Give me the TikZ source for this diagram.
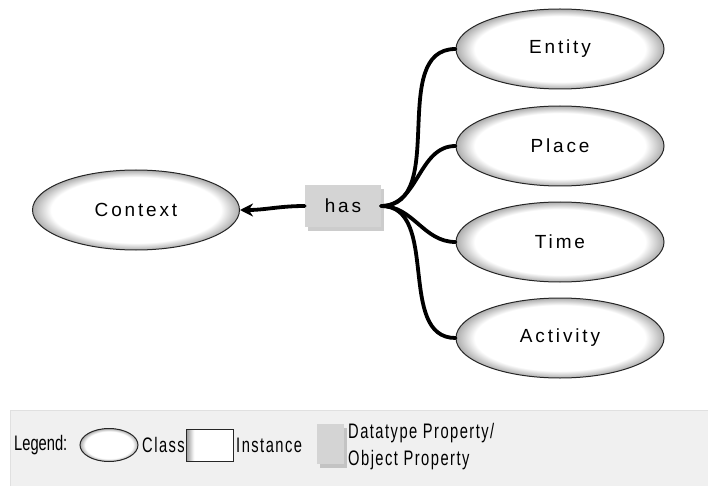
\documentclass[tikz,border=0pt]{standalone}
\usepackage{fontspec}
\setmainfont[LetterSpace=15]{Liberation Sans}
\newfontfamily\legendfont[FakeStretch=0.7,LetterSpace=7]{Liberation Sans}
\newfontfamily\legendhead[FakeStretch=0.7]{Liberation Sans}
\usetikzlibrary{shapes.geometric, shadows, arrows.meta}
\pgfdeclareradialshading{classball}{\pgfpointorigin}{color(0bp)=(white); color(20.5bp)=(white); color(27.5bp)=(black!50); color(50bp)=(black!50)}
\pgfdeclarehorizontalshading{instshade}{100bp}{color(0bp)=(black!40); color(25bp)=(black!40); color(33bp)=(white); color(100bp)=(white)}
\tikzset{
  class/.style={ellipse, draw=black!85, line width=1pt, shading=classball, minimum width=208pt, minimum height=80pt, inner sep=0pt, font=\fontsize{19}{22}\selectfont},
  prop/.style={rectangle, fill=black!17, inner sep=0pt, drop shadow={opacity=0.4, shadow xshift=3pt, shadow yshift=-4pt}},
  link/.style={line width=3.8pt, line cap=round},
  legtext/.style={anchor=west, inner sep=0pt, font=\legendfont\fontsize{21}{27}\selectfont}
}
\begin{document}
\begin{tikzpicture}[x=1pt,y=-1pt]
  \useasboundingbox (0,0) rectangle (708,486);
  \node[class] (entity) at (560,49) {Entity};
  \node[class] (place) at (560,146) {Place};
  \node[class] (time) at (560,242) {Time};
  \node[class] (activity) at (560,338) {Activity};
  \node[class, minimum width=207pt] (context) at (136,210) {Context};
  \node[prop, minimum width=76pt, minimum height=42pt, font=\fontsize{19}{22}\selectfont] (has) at (343,206) {has};
  \draw[link] (has.east) to[out=0,in=180] (entity.west);
  \draw[link] (has.east) to[out=0,in=180] (place.west);
  \draw[link] (has.east) to[out=0,in=180] (time.west);
  \draw[link] (has.east) to[out=0,in=180] (activity.west);
  \draw[link, -{Stealth[length=13pt,width=13pt]}] (has.west) to[out=180,in=0] (context.east);

  \fill[black!6] (10,410) rectangle (708,486);
  \draw[black!12, line width=1pt] (708,410) -- (10,410) -- (10,486);
  \node[legtext, font=\legendhead\fontsize{21}{27}\selectfont] (legend) at (14,445) {Legend:};
  \node[class, minimum width=58pt, minimum height=33pt] (legclass) at (109,445) {};
  \node[legtext] (classtext) at (142,445) {Class};
  \node[rectangle, draw=black!85, line width=1pt, shading=instshade, minimum width=47pt, minimum height=32pt] (leginst) at (210,445) {};
  \node[legtext] (insttext) at (236,445) {Instance};
  \node[prop, minimum width=27pt, minimum height=40pt] (legprop) at (330,444) {};
  \node[legtext, align=left] (proptext) at (348,447) {Datatype Property/\\Object Property};
\end{tikzpicture}
\end{document}
